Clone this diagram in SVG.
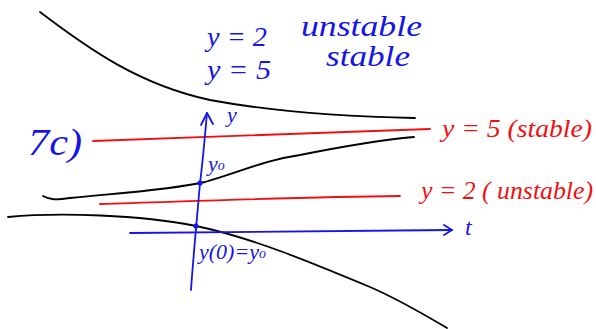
<svg xmlns="http://www.w3.org/2000/svg" width="596" height="329" viewBox="0 0 596 329">
<style>
.k{fill:none;stroke:#000;stroke-width:1.8;stroke-linecap:round;stroke-linejoin:round}
.r{fill:none;stroke:#f01010;stroke-width:1.8;stroke-linecap:round}
.b{fill:none;stroke:#1515e8;stroke-width:1.8;stroke-linecap:round;stroke-linejoin:round}
.bt{fill:#1515e8;font-family:"Liberation Serif",serif;font-style:italic}
.rt{fill:#f01010;font-family:"Liberation Serif",serif;font-style:italic}
</style>
<rect width="596" height="329" fill="#fff"/>
<g id="curves">
<path class="k" d="M40,12 C90,50 140,85 210,100 C280,113 360,117 415,118"/>
<path class="k" d="M43,196 C50,200 56,200 70,198 C120,193 170,190 205,182 C240,172 265,160 300,155 C340,147 380,140 414,137"/>
<path class="k" d="M8,217 C60,212 140,215 196,226 C250,237 310,262 370,287 C400,300 425,315 447,328"/>
</g>
<g id="equilibria">
<path class="r" d="M93,141 C180,138 300,134 430,129"/>
<path class="r" d="M100,204 C200,201 300,197 400,196"/>
</g>
<g id="axes">
<path class="b" d="M191,290 C193,260 196,230 200,183 C203,160 205,135 207,113"/>
<path class="b" d="M201,125 L207,113 L213,124"/>
<path class="b" d="M130,233 C250,232 350,231 452,230"/>
<path class="b" d="M444,225 L452,230 L444,235"/>
<circle cx="200" cy="183" r="2.6" fill="#1515e8"/>
<circle cx="196" cy="226" r="2.6" fill="#1515e8"/>
</g>
<g id="labels">
<text class="bt" x="207" y="46" font-size="28" textLength="60" lengthAdjust="spacingAndGlyphs">y = 2</text>
<text class="bt" x="301" y="36" font-size="30" textLength="121" lengthAdjust="spacingAndGlyphs">unstable</text>
<text class="bt" x="207" y="79" font-size="28" textLength="64" lengthAdjust="spacingAndGlyphs">y = 5</text>
<text class="bt" x="326" y="66" font-size="30" textLength="84" lengthAdjust="spacingAndGlyphs">stable</text>
<text class="bt" x="28" y="155" font-size="38" textLength="54" lengthAdjust="spacingAndGlyphs">7c)</text>
<text class="bt" x="227" y="122" font-size="22">y</text>
<text class="bt" x="208" y="171" font-size="22">y<tspan font-size="14" dy="-1">o</tspan></text>
<text class="bt" x="199" y="259" font-size="22">y(0)=y<tspan font-size="14" dy="-1">o</tspan></text>
<text class="bt" x="465" y="235" font-size="24">t</text>
<text class="rt" x="442" y="137" font-size="26" textLength="150" lengthAdjust="spacingAndGlyphs">y = 5 (stable)</text>
<text class="rt" x="421" y="199" font-size="26" textLength="172" lengthAdjust="spacingAndGlyphs">y = 2 ( unstable)</text>
</g>
</svg>
